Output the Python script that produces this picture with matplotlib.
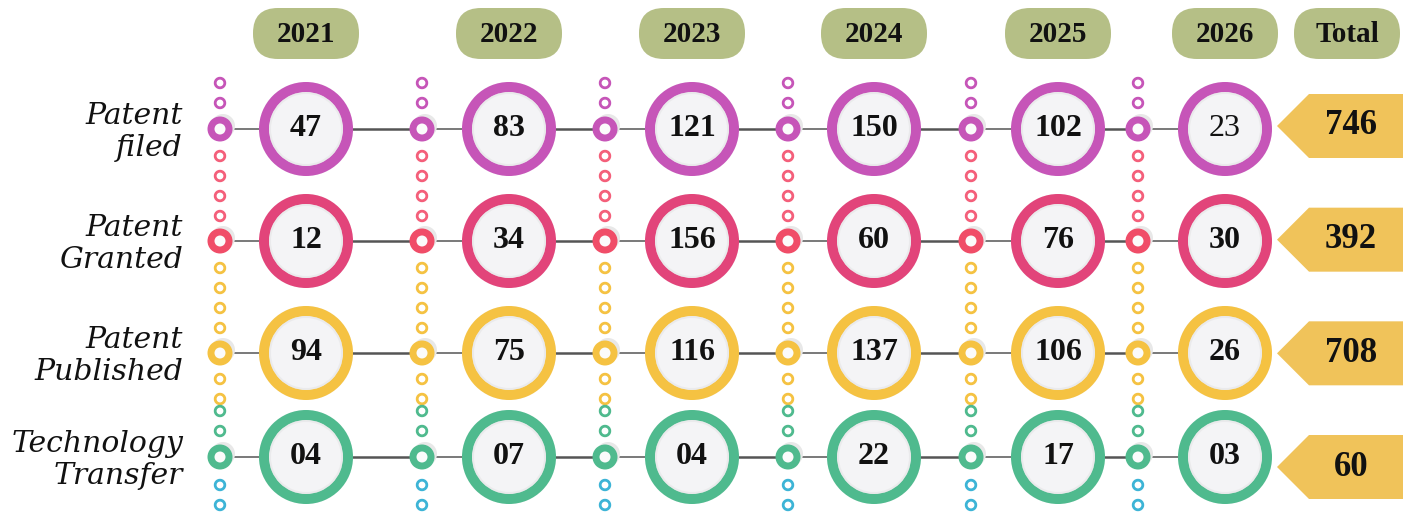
import matplotlib.pyplot as plt
from matplotlib.patches import Circle, Wedge, FancyBboxPatch, Polygon
import numpy as np

years = ['2021', '2022', '2023', '2024', '2025', '2026']
categories = ['Patent\nfiled', 'Patent\nGranted', 'Patent\nPublished', 'Technology\nTransfer']
patent_filed = [47, 83, 121, 150, 102, 23]
patent_granted = [12, 34, 156, 60, 76, 30]
patent_published = [94, 75, 116, 137, 106, 26]
tech_transfer = [4, 7, 4, 22, 17, 3]
totals = [746, 392, 708, 60]

rows = [patent_filed, patent_granted, patent_published, tech_transfer]
row_colors = ['#c655b8', '#e2447a', '#f5c242', '#4fba8e']
marker_colors = ['#c655b8', '#f04d68', '#f5c242', '#4fba8e']
dot_colors = {'mag': '#c655b8', 'pink': '#f45f7a', 'yel': '#f5c242',
              'grn': '#4fba8e', 'blue': '#3db4d6'}
pill_color = '#b5bf86'
arrow_color = '#f0c35a'
num_font = 'Liberation Serif'

# layout (pixels)
W, H = 1410, 515
row_y = [129, 241, 353, 457]
big_x = [306, 509, 692, 874, 1058, 1225]
dot_x = [220, 422, 605, 788, 971, 1138]
pill_x = big_x + [1347]
arrow_y = np.linspace(126, 467, 4)

fig = plt.figure(figsize=(W / 100, H / 100), dpi=100)
ax = fig.add_axes([0, 0, 1, 1])
ax.set_xlim(0, W)
ax.set_ylim(H, 0)
ax.set_aspect('equal')
ax.axis('off')

# header pills
for x, lab in zip(pill_x, years + ['Total']):
    ax.add_patch(FancyBboxPatch((x - 53, 8), 106, 51, boxstyle='round,pad=0,rounding_size=25',
                                fc=pill_color, ec='none'))
    ax.text(x, 34, lab, ha='center', va='center', fontsize=21, fontweight='bold',
            family=num_font, color='#111111')

# vertical dotted columns
small_dots = [(-46, 'mag'), (-26, 'mag'),
              (27, 'pink'), (47, 'pink'), (67, 'pink'), (87, 'pink'),
              (139, 'yel'), (159, 'yel'), (179, 'yel'), (199, 'yel'),
              (250, 'yel'), (270, 'yel'), (282, 'grn'), (302, 'grn'),
              (356, 'blue'), (376, 'blue')]
for x in dot_x:
    for dy, c in small_dots:
        ax.add_patch(Wedge((x, row_y[0] + dy), 6.2, 0, 360, width=2.8, fc=dot_colors[c], ec='none'))

# rows
for r, (vals, y) in enumerate(zip(rows, row_y)):
    col = row_colors[r]
    for i, x in enumerate(big_x):
        # connector lines
        ax.plot([dot_x[i], x], [y, y], color='#555555', lw=1.1, zorder=1)
        if i + 1 < len(dot_x):
            ax.plot([x, dot_x[i + 1]], [y, y], color='#555555', lw=1.8, zorder=1)
        # row marker on the dotted column
        ax.add_patch(Circle((dot_x[i] + 3, y - 3), 12, fc='#e8e8e8', ec='none', zorder=2))
        ax.add_patch(Circle((dot_x[i], y), 12.5, fc=marker_colors[r], ec='none', zorder=3))
        ax.add_patch(Circle((dot_x[i], y), 5.5, fc='#fbfbfb', ec='none', zorder=4))
        # big circle
        ax.add_patch(Circle((x, y), 47, fc='#f4f4f6', ec='none', zorder=3))
        ax.add_patch(Wedge((x, y), 47, 0, 360, width=10, fc=col, ec='none', zorder=4))
        ax.add_patch(Wedge((x, y), 37, 0, 360, width=2, fc='#dddddd', ec='none', alpha=0.4, zorder=4))
        txt = f'{vals[i]:02d}' if r == 3 else str(vals[i])
        weight = 'normal' if i == len(big_x) - 1 and r == 0 else 'bold'
        ax.text(x, y, txt, ha='center', va='center', fontsize=23, fontweight=weight,
                family=num_font, color='#111111', zorder=5)

    # category label
    ax.text(183, y + 3, categories[r], ha='right', va='center', fontsize=21.5,
            style='italic', family='DejaVu Serif', linespacing=1.15, color='#111111')

# total arrows
for ya, t in zip(arrow_y, totals):
    pts = [(1277, ya), (1309, ya - 32), (1403, ya - 32), (1403, ya + 32), (1309, ya + 32)]
    ax.add_patch(Polygon(pts, closed=True, fc=arrow_color, ec='none'))
    ax.text(1351, ya, str(t), ha='center', va='center', fontsize=25, fontweight='bold',
            family=num_font, color='#111111')

fig.savefig('out.png', dpi=100, facecolor='white')
